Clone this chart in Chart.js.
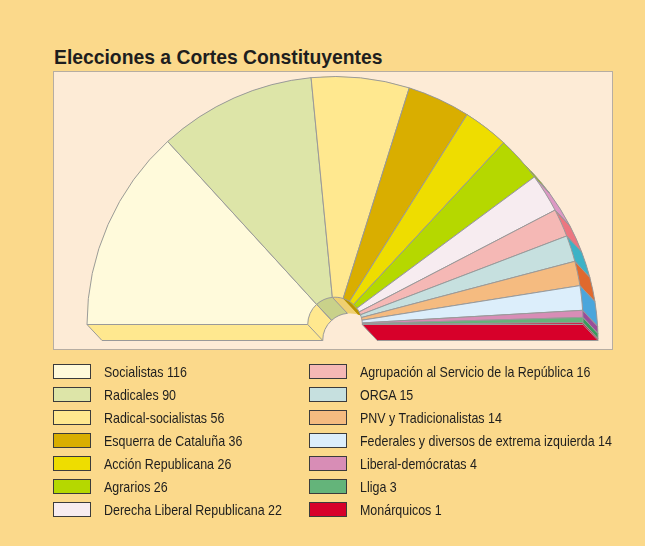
<!DOCTYPE html>
<html>
<head>
<meta charset="utf-8">
<script src="https://cdn.jsdelivr.net/npm/chart.js@4.4.1/dist/chart.umd.min.js"></script>
<style>
  html, body { margin: 0; padding: 0; }
  body { width: 645px; height: 546px; background: #fbd98b; position: relative; overflow: hidden;
         font-family: "Liberation Sans", sans-serif; color: #1e1e1e; }
  #title { position: absolute; left: 54px; top: 45px; font-size: 21px; font-weight: bold; white-space: nowrap;
           transform: scaleX(0.92); transform-origin: 0 0; }
  #panel { position: absolute; left: 53px; top: 71px; width: 558px; height: 277px;
           background: #fdebd6; border: 1.5px solid #b6ada2; }
  #chart { position: absolute; left: 0; top: 0; }
  .legend-item { position: absolute; height: 16px; white-space: nowrap; font-size: 15px; line-height: 16px; }
  .legend-item span.box { position: absolute; left: 0; top: 0; width: 36px; height: 13px; border: 1.5px solid #3b3b3b; }
  .legend-item span.label { position: absolute; left: 51px; top: 0; transform: scaleX(0.83); transform-origin: 0 0; }
</style>
</head>
<body>
<div id="title">Elecciones a Cortes Constituyentes</div>
<div id="panel"></div>
<canvas id="chart" width="645" height="546"></canvas>
<div id="legend"></div>
<script>
// Data
const parties = [
  'Socialistas', 'Radicales', 'Radical-socialistas', 'Esquerra de Cataluña',
  'Acción Republicana', 'Agrarios', 'Derecha Liberal Republicana',
  'Agrupación al Servicio de la República', 'ORGA', 'PNV y Tradicionalistas',
  'Federales y diversos de extrema izquierda', 'Liberal-demócratas', 'Lliga', 'Monárquicos'
];
const seats = [116, 90, 56, 36, 26, 26, 22, 16, 15, 14, 14, 4, 3, 1];

// Top face colours and the darker "side" colours of the 3D extrusion
const faceColors = ['#fffadb', '#dde5a8', '#ffe88f', '#d9ae00', '#eedd00', '#b5d800', '#f7ecf0',
                    '#f5b8b5', '#c6e0df', '#f5bb80', '#dceefb', '#d88db6', '#64b47a', '#d7002a'];
const sideColors = ['#ffe88f', '#c9d18a', '#f0d070', '#b89200', '#d0c000', '#9ab800', '#dc98c4',
                    '#ec7680', '#3db2c6', '#e0692e', '#4aa6dc', '#9a4c9a', '#3a9a5c', '#d7002a'];

const depthX = 15, depthY = 16;

// Legend (two columns)
const legend = document.getElementById('legend');
parties.forEach((p, i) => {
  const col = i < 7 ? 0 : 1;
  const row = i % 7;
  const el = document.createElement('div');
  el.className = 'legend-item';
  el.style.left = (col ? 309 : 53) + 'px';
  el.style.top = (364 + row * 23) + 'px';
  el.innerHTML = `<span class="box" style="background:${faceColors[i]}"></span><span class="label">${p} ${seats[i]}</span>`;
  legend.appendChild(el);
});

// Draws the thickness of the half disc under the slices
const extrude = {
  id: 'extrude',
  beforeDatasetsDraw(chart) {
    const ctx = chart.ctx;
    const arcs = chart.getDatasetMeta(0).data;
    const props = arcs.map(a => a.getProps(['x', 'y', 'startAngle', 'endAngle', 'innerRadius', 'outerRadius'], true));
    const pt = (p, r, a, t) => [p.x + r * Math.cos(a) + depthX * t, p.y + r * Math.sin(a) + depthY * t];
    ctx.save();
    // sweep every slice down, left to right so the lower faces end on top
    props.forEach((p, i) => {
      ctx.fillStyle = sideColors[i];
      const R = p.outerRadius, r = p.innerRadius;
      // the two copies of the slice
      [0, 1].forEach(t => {
        ctx.beginPath();
        ctx.arc(p.x + depthX * t, p.y + depthY * t, R, p.startAngle, p.endAngle);
        ctx.arc(p.x + depthX * t, p.y + depthY * t, r, p.endAngle, p.startAngle, true);
        ctx.closePath();
        ctx.fill();
      });
      // curved edges swept
      [R, r].forEach(rad => {
        ctx.beginPath();
        ctx.arc(p.x, p.y, rad, p.startAngle, p.endAngle);
        ctx.lineTo(...pt(p, rad, p.endAngle, 1));
        ctx.arc(p.x + depthX, p.y + depthY, rad, p.endAngle, p.startAngle, true);
        ctx.closePath();
        ctx.fill();
      });
      // straight edges swept
      [p.startAngle, p.endAngle].forEach(a => {
        ctx.beginPath();
        ctx.moveTo(...pt(p, r, a, 0));
        ctx.lineTo(...pt(p, R, a, 0));
        ctx.lineTo(...pt(p, R, a, 1));
        ctx.lineTo(...pt(p, r, a, 1));
        ctx.closePath();
        ctx.fill();
      });
    });

    // outlines of the visible parts of the thickness
    const limit = Math.atan2(-depthX, depthY); // rim faces below this angle face the viewer
    ctx.lineWidth = 1;
    ctx.strokeStyle = '#999';
    ctx.beginPath();
    props.forEach(p => {
      const a0 = Math.max(p.startAngle, limit);
      if (p.endAngle > a0) {
        ctx.moveTo(...pt(p, p.outerRadius, a0, 1));
        ctx.arc(p.x + depthX, p.y + depthY, p.outerRadius, a0, p.endAngle);
      }
      [p.startAngle, p.endAngle].forEach(a => {
        if (a > limit - 0.12) {
          ctx.moveTo(...pt(p, p.outerRadius, a, 0));
          ctx.lineTo(...pt(p, p.outerRadius, a, 1));
        }
      });
      // inner hole, only the half that can be seen
      const mid = (p.startAngle + p.endAngle) / 2;
      if (mid < -Math.PI / 2) {
        ctx.moveTo(...pt(p, p.innerRadius, p.startAngle, 1));
        ctx.arc(p.x + depthX, p.y + depthY, p.innerRadius, p.startAngle, p.endAngle);
        [p.startAngle, p.endAngle].forEach(a => {
          ctx.moveTo(...pt(p, p.innerRadius, a, 0));
          ctx.lineTo(...pt(p, p.innerRadius, a, 1));
        });
      }
    });
    // the two flat ends
    const first = props[0], last = props[props.length - 1];
    ctx.moveTo(...pt(first, first.outerRadius, first.startAngle, 0));
    ctx.lineTo(...pt(first, first.outerRadius, first.startAngle, 1));
    ctx.lineTo(...pt(first, first.innerRadius, first.startAngle, 1));
    ctx.moveTo(...pt(last, last.innerRadius, last.endAngle, 0));
    ctx.lineTo(...pt(last, last.innerRadius, last.endAngle, 1));
    ctx.lineTo(...pt(last, last.outerRadius, last.endAngle, 1));
    ctx.stroke();
    ctx.restore();
  }
};

new Chart(document.getElementById('chart'), {
  type: 'doughnut',
  data: {
    labels: parties,
    datasets: [{
      data: seats,
      backgroundColor: faceColors,
      borderColor: '#9a9a9a',
      borderWidth: 1
    }]
  },
  options: {
    responsive: false,
    animation: false,
    devicePixelRatio: 1,
    rotation: -90,
    circumference: 180,
    cutout: '11%',
    layout: { padding: { left: 84, right: 59, top: 76, bottom: 221 } },
    plugins: {
      legend: { display: false },
      tooltip: { enabled: false },
      title: { display: false }
    }
  },
  plugins: [extrude]
});
</script>
</body>
</html>
